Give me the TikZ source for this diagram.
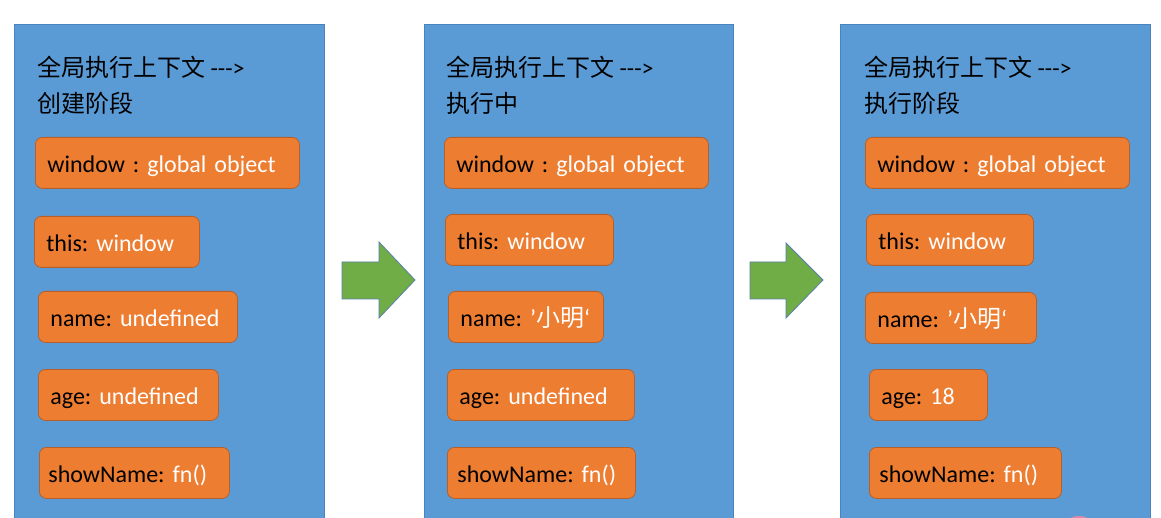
\documentclass[tikz,border=0pt]{standalone}
\usepackage{fontspec}
\setmainfont{Carlito}[Ligatures=TeXOff]
\newfontfamily\cjk{Noto Sans CJK SC}
\definecolor{panelblue}{HTML}{5B9BD5}
\definecolor{panelborder}{HTML}{4A84BC}
\definecolor{itemorange}{HTML}{ED7D31}
\definecolor{itemborder}{HTML}{B5602A}
\definecolor{arrowgreen}{HTML}{70AD47}
\definecolor{arrowborder}{HTML}{5A7FA8}
\definecolor{cursorpink}{HTML}{D98AA6}
\newcommand\val[1]{{\color{white}#1}}
\frenchspacing
\begin{document}
\begin{tikzpicture}[x=1pt,y=-1pt,
  panel/.style={fill=panelblue, draw=panelborder, line width=0.8pt},
  item/.style={rectangle, rounded corners=7pt, fill=itemorange, draw=itemborder, line width=0.8pt,
    anchor=north west, inner xsep=12pt, inner ysep=0pt, text height=35pt, text depth=16pt,
    align=left, font=\fontsize{24}{28}\selectfont},
  title/.style={anchor=base west, inner sep=0pt, font=\fontsize{24}{28}\selectfont},
  arrowshape/.style={fill=arrowgreen, draw=arrowborder, line width=0.8pt, line join=miter}]
\useasboundingbox (0,0) rectangle (1161,518);
\fill[white] (0,0) rectangle (1161,518);
% panels
\draw[panel] (14,530) -- (14,24) -- (324,24) -- (324,530);
\draw[panel] (424,530) -- (424,24) -- (733,24) -- (733,530);
\draw[panel] (840,530) -- (840,24) -- (1150,24) -- (1150,530);
% arrows
\draw[arrowshape] (342,262) -- (379,262) -- (379,242) -- (415,280) -- (379,318) -- (379,299) -- (342,299) -- cycle;
\draw[arrowshape] (750,262) -- (786,262) -- (786,243) -- (823,280) -- (786,318) -- (786,299) -- (750,299) -- cycle;
% panel 1
\node[title] (ta1) at (37,77) {{\cjk 全局执行上下文} --->};
\node[title] (tb1) at (37,113) {\cjk 创建阶段};
\node[item, text width=240pt] (w1) at (35,137) {\mbox{window : \val{global object}}};
\node[item, text width=141pt] (t1) at (34,216) {\mbox{this: \val{window}}};
\node[item, text width=175pt] (n1) at (38,291) {\mbox{name: \val{undefined}}};
\node[item, text width=156pt] (a1) at (38,369) {\mbox{age: \val{undefined}}};
\node[item, inner xsep=9pt, text width=172pt] (s1) at (39,447) {\mbox{showName: \val{fn()}}};
% panel 2
\node[title] (ta2) at (446,77) {{\cjk 全局执行上下文} --->};
\node[title] (tb2) at (446,113) {\cjk 执行中};
\node[item, text width=240pt] (w2) at (444,137) {\mbox{window : \val{global object}}};
\node[item, text width=144pt] (t2) at (445,214) {\mbox{this: \val{window}}};
\node[item, text width=131pt] (n2) at (448,291) {\mbox{name: \val{’{\cjk 小明}‘}}};
\node[item, text width=163pt] (a2) at (447,369) {\mbox{age: \val{undefined}}};
\node[item, inner xsep=10pt, text width=168pt] (s2) at (447,447) {\mbox{showName: \val{fn()}}};
% panel 3
\node[title] (ta3) at (864,77) {{\cjk 全局执行上下文} --->};
\node[title] (tb3) at (864,113) {\cjk 执行阶段};
\node[item, text width=240pt] (w3) at (865,137) {\mbox{window : \val{global object}}};
\node[item, text width=143pt] (t3) at (866,214) {\mbox{this: \val{window}}};
\node[item, text width=147pt] (n3) at (865,292) {\mbox{name: \val{’{\cjk 小明}‘}}};
\node[item, text width=94pt] (a3) at (869,369) {\mbox{age: \val{18}}};
\node[item, inner xsep=10pt, text width=172pt] (s3) at (869,447) {\mbox{showName: \val{fn()}}};
% cursor mark
\fill[cursorpink] (1079,525) ellipse (14 and 9);
\end{tikzpicture}
\end{document}
